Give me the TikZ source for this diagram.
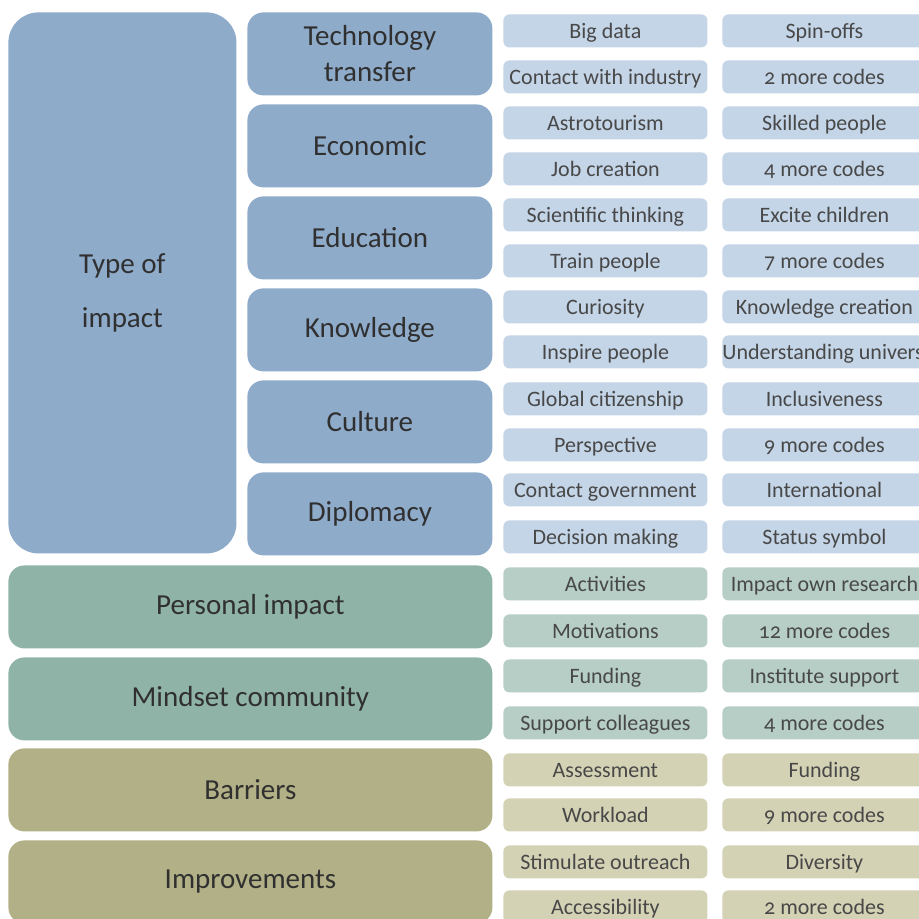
\documentclass[tikz,border=0pt]{standalone}
\usepackage{fontspec}
\setmainfont{Carlito}[Numbers=OldStyle]
\usepackage{tikz}
\usetikzlibrary{positioning}
\definecolor{impblue}{RGB}{142,171,202}
\definecolor{codeblue}{RGB}{196,213,231}
\definecolor{impgreen}{RGB}{143,180,167}
\definecolor{codegreen}{RGB}{182,206,198}
\definecolor{impolive}{RGB}{178,176,134}
\definecolor{codeolive}{RGB}{212,210,181}
\definecolor{labelgray}{RGB}{48,48,48}
\definecolor{codegray}{RGB}{72,72,72}

\tikzset{
  catbox/.style={anchor=north west, rounded corners=8pt, inner sep=0pt,
    minimum width=122.5pt, minimum height=41.5pt, align=center,
    text=labelgray, font=\fontsize{14.5}{18}\selectfont},
  widebox/.style={catbox, minimum width=242pt},
  codebox/.style={anchor=north west, rounded corners=3pt, inner sep=0pt,
    minimum width=102pt, minimum height=16.5pt, text height=9.5pt, text depth=2pt,
    text=codegray, font=\fontsize{11}{12}\selectfont},
}

\begin{document}
\begin{tikzpicture}[x=0.5pt, y=-0.5pt]
\clip (0,0) rectangle (919,919);
\fill[white] (0,0) rectangle (919,919);

% Type of impact
\node[catbox, fill=impblue, rounded corners=15pt, minimum width=114pt,
  minimum height=270.5pt] (type) at (8,12)
  {\raisebox{-5pt}[\height][\depth]{Type of}\\[9pt]\raisebox{-5pt}[\height][\depth]{impact}};

% Technology transfer
\node[catbox, fill=impblue] (tech) at (247,12) {Technology\\transfer};
\node[codebox, fill=codeblue] (techA1) at (503,14) {Big data};
\node[codebox, fill=codeblue] (techB1) at (722,14) {Spin-offs};
\node[codebox, fill=codeblue] (techA2) at (503,60) {Contact with industry};
\node[codebox, fill=codeblue] (techB2) at (722,60) {2 more codes};

% Economic
\node[catbox, fill=impblue] (econ) at (247,104) {Economic};
\node[codebox, fill=codeblue] (econA1) at (503,106) {Astrotourism};
\node[codebox, fill=codeblue] (econB1) at (722,106) {Skilled people};
\node[codebox, fill=codeblue] (econA2) at (503,152) {Job creation};
\node[codebox, fill=codeblue] (econB2) at (722,152) {4 more codes};

% Education
\node[catbox, fill=impblue] (educ) at (247,196) {Education};
\node[codebox, fill=codeblue] (educA1) at (503,198) {Scientific thinking};
\node[codebox, fill=codeblue] (educB1) at (722,198) {Excite children};
\node[codebox, fill=codeblue] (educA2) at (503,244) {Train people};
\node[codebox, fill=codeblue] (educB2) at (722,244) {7 more codes};

% Knowledge
\node[catbox, fill=impblue] (know) at (247,288) {Knowledge};
\node[codebox, fill=codeblue] (knowA1) at (503,290) {Curiosity};
\node[codebox, fill=codeblue] (knowB1) at (722,290) {Knowledge creation};
\node[codebox, fill=codeblue] (knowA2) at (503,335) {Inspire people};
\node[codebox, fill=codeblue] (knowB2) at (722,335) {Understanding universe};

% Culture
\node[catbox, fill=impblue] (cult) at (247,380) {Culture};
\node[codebox, fill=codeblue] (cultA1) at (503,382) {Global citizenship};
\node[codebox, fill=codeblue] (cultB1) at (722,382) {Inclusiveness};
\node[codebox, fill=codeblue] (cultA2) at (503,428) {Perspective};
\node[codebox, fill=codeblue] (cultB2) at (722,428) {9 more codes};

% Diplomacy
\node[catbox, fill=impblue] (dipl) at (247,472) {Diplomacy};
\node[codebox, fill=codeblue] (diplA1) at (503,473) {Contact government};
\node[codebox, fill=codeblue] (diplB1) at (722,473) {International};
\node[codebox, fill=codeblue] (diplA2) at (503,520) {Decision making};
\node[codebox, fill=codeblue] (diplB2) at (722,520) {Status symbol};

% Personal impact
\node[widebox, fill=impgreen] (pers) at (8,565) {Personal impact};
\node[codebox, fill=codegreen] (persA1) at (503,567) {Activities};
\node[codebox, fill=codegreen] (persB1) at (722,567) {Impact own research};
\node[codebox, fill=codegreen] (persA2) at (503,614) {Motivations};
\node[codebox, fill=codegreen] (persB2) at (722,614) {12 more codes};

% Mindset community
\node[widebox, fill=impgreen] (mind) at (8,657) {Mindset community};
\node[codebox, fill=codegreen] (mindA1) at (503,659) {Funding};
\node[codebox, fill=codegreen] (mindB1) at (722,659) {Institute support};
\node[codebox, fill=codegreen] (mindA2) at (503,706) {Support colleagues};
\node[codebox, fill=codegreen] (mindB2) at (722,706) {4 more codes};

% Barriers
\node[widebox, fill=impolive] (barr) at (8,748) {Barriers};
\node[codebox, fill=codeolive] (barrA1) at (503,753) {Assessment};
\node[codebox, fill=codeolive] (barrB1) at (722,753) {Funding};
\node[codebox, fill=codeolive] (barrA2) at (503,798) {Workload};
\node[codebox, fill=codeolive] (barrB2) at (722,798) {9 more codes};

% Improvements
\node[widebox, fill=impolive] (impr) at (8,840) {Improvements};
\node[codebox, fill=codeolive] (imprA1) at (503,845) {Stimulate outreach};
\node[codebox, fill=codeolive] (imprB1) at (722,845) {Diversity};
\node[codebox, fill=codeolive] (imprA2) at (503,890) {Accessibility};
\node[codebox, fill=codeolive] (imprB2) at (722,890) {2 more codes};
\end{tikzpicture}
\end{document}
